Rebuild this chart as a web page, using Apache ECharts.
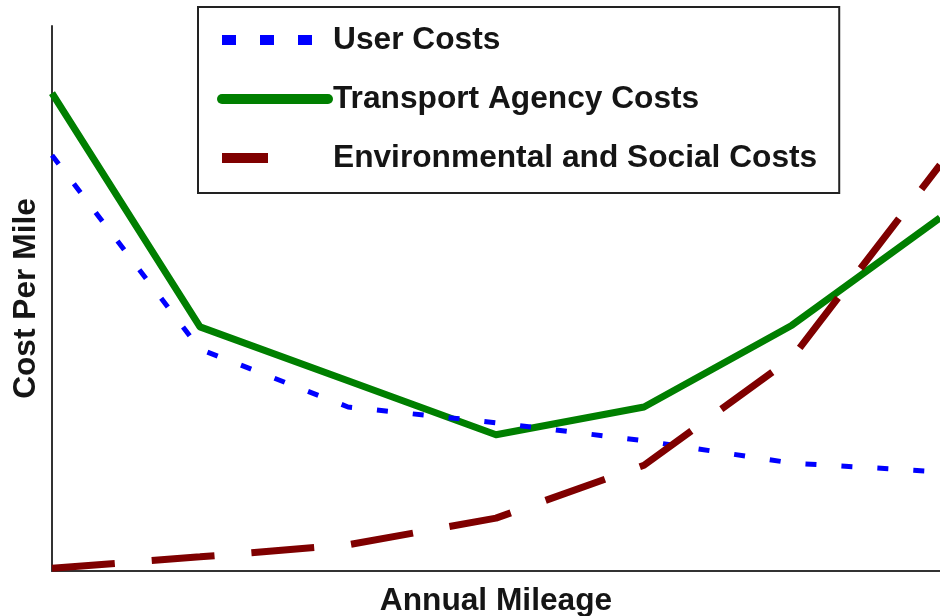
<!DOCTYPE html>
<html>
<head>
<meta charset="utf-8">
<title>Cost Per Mile vs Annual Mileage</title>
<script src="https://cdn.jsdelivr.net/npm/echarts@6/dist/echarts.min.js"></script>
<style>
  html, body { margin: 0; padding: 0; background: #fff; }
  #chart { width: 940px; height: 616px; }
</style>
</head>
<body>
<div id="chart"></div>
<script>
// mileage steps along the x axis (no labels shown in the original)
const mileageSteps = ['m1', 'm2', 'm3', 'm4', 'm5', 'm6', 'm7']
// cost per mile, relative units 0..100
const userCosts = [76.3, 40.7, 30.1, 27.2, 23.9, 19.8, 18.2]
const agencyCosts = [87.7, 44.8, 34.9, 25.0, 30.1, 45.1, 64.8]
const envSocialCosts = [0.5, 2.6, 4.8, 9.7, 19.4, 39.1, 74.5]

const textColor = '#151515'
const font = '"Liberation Sans", Arial, sans-serif'

const myChart = echarts.init(document.getElementById('chart'))
myChart.setOption({
  animation: false,
  grid: {
    left: 52,
    right: 0,
    top: 26,
    bottom: 45,
    outerBoundsMode: 'none'
  },
  legend: {
    orient: 'vertical',
    left: 198,
    top: 7,
    padding: [17, 22, 19, 19],
    borderColor: '#222',
    borderWidth: 2,
    itemWidth: 106,
    itemHeight: 14,
    itemGap: 27,
    selectedMode: false,
    itemStyle: { opacity: 0 },
    lineStyle: { width: 10 },
    textStyle: {
      color: textColor,
      fontFamily: font,
      fontWeight: 'bold',
      fontSize: 31.7,
      lineHeight: 32
    },
    data: [
      { name: 'User Costs', lineStyle: { type: [14, 24], cap: 'butt' } },
      { name: 'Transport Agency Costs', lineStyle: { type: 'solid', cap: 'round' } },
      { name: 'Environmental and Social Costs', lineStyle: { type: [46, 200], cap: 'butt' } }
    ]
  },
  xAxis: {
    type: 'category',
    data: mileageSteps,
    boundaryGap: false,
    name: 'Annual Mileage',
    nameLocation: 'middle',
    nameGap: 14,
    nameTextStyle: {
      color: textColor,
      fontFamily: font,
      fontWeight: 'bold',
      fontSize: 31.7
    },
    axisLine: { lineStyle: { color: '#333', width: 2 } },
    axisTick: { show: false },
    axisLabel: { show: false },
    splitLine: { show: false }
  },
  yAxis: {
    type: 'value',
    min: 0,
    max: 100,
    name: 'Cost Per Mile',
    nameLocation: 'middle',
    nameRotate: 90,
    nameGap: 10,
    nameTextStyle: {
      color: textColor,
      fontFamily: font,
      fontWeight: 'bold',
      fontSize: 31.7
    },
    axisLine: { show: true, lineStyle: { color: '#333', width: 2 } },
    axisTick: { show: false },
    axisLabel: { show: false },
    splitLine: { show: false }
  },
  series: [
    {
      name: 'Transport Agency Costs',
      type: 'line',
      data: agencyCosts,
      symbol: 'none',
      lineStyle: { color: '#007f00', width: 7, join: 'round' },
      itemStyle: { color: '#007f00' }
    },
    {
      name: 'User Costs',
      type: 'line',
      data: userCosts,
      symbol: 'none',
      lineStyle: { color: '#0000ff', width: 5, type: [11, 25] },
      itemStyle: { color: '#0000ff' }
    },
    {
      name: 'Environmental and Social Costs',
      type: 'line',
      data: envSocialCosts,
      symbol: 'none',
      lineStyle: { color: '#7f0000', width: 7, type: [63, 37] },
      itemStyle: { color: '#7f0000' }
    }
  ]
})
window.onresize = function() {
  myChart.resize()
}
</script>
</body>
</html>
